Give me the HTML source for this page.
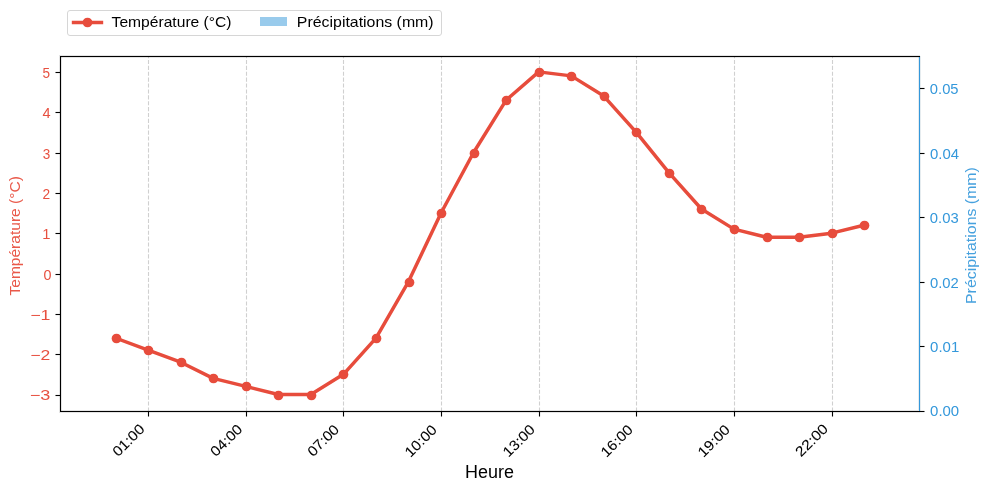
<!DOCTYPE html>
<html><head><meta charset="utf-8"><title>Température et précipitations</title>
<style>
html,body{margin:0;padding:0;background:#fff;}
svg{display:block;will-change:transform;}
text{font-family:"Liberation Sans",sans-serif;}
</style></head><body>
<svg width="989" height="492" viewBox="0 0 989 492">
<rect x="0" y="0" width="989" height="492" fill="#fff"/>
<g stroke="rgb(208,208,208)" stroke-width="1.111" stroke-dasharray="4.111 1.778" fill="none">
<line x1="148.5" y1="411.5" x2="148.5" y2="56.3"/>
<line x1="246.5" y1="411.5" x2="246.5" y2="56.3"/>
<line x1="343.5" y1="411.5" x2="343.5" y2="56.3"/>
<line x1="441.5" y1="411.5" x2="441.5" y2="56.3"/>
<line x1="539.5" y1="411.5" x2="539.5" y2="56.3"/>
<line x1="636.5" y1="411.5" x2="636.5" y2="56.3"/>
<line x1="734.5" y1="411.5" x2="734.5" y2="56.3"/>
<line x1="832.5" y1="411.5" x2="832.5" y2="56.3"/>
</g>
<path d="M115.605 338.034 L148.150 350.133 L180.695 362.232 L213.240 378.363 L245.786 386.429 L278.331 394.495 L310.876 394.495 L343.421 374.331 L375.967 338.034 L408.512 281.573 L441.057 213.014 L473.602 152.520 L506.148 100.092 L538.693 71.861 L571.238 75.894 L603.783 96.059 L636.329 132.355 L668.874 172.684 L701.419 208.981 L733.964 229.145 L766.510 237.211 L799.055 237.211 L831.600 233.178 L864.145 225.112" fill="none" stroke="#e74c3c" stroke-width="3.472" stroke-linejoin="round" stroke-linecap="square"/>
<g fill="#e74c3c">
<circle cx="116.5" cy="338.5" r="4.861"/>
<circle cx="148.5" cy="350.5" r="4.861"/>
<circle cx="181.5" cy="362.5" r="4.861"/>
<circle cx="213.5" cy="378.5" r="4.861"/>
<circle cx="246.5" cy="386.5" r="4.861"/>
<circle cx="278.5" cy="395.5" r="4.861"/>
<circle cx="311.5" cy="395.5" r="4.861"/>
<circle cx="343.5" cy="374.5" r="4.861"/>
<circle cx="376.5" cy="338.5" r="4.861"/>
<circle cx="409.5" cy="282.5" r="4.861"/>
<circle cx="441.5" cy="213.5" r="4.861"/>
<circle cx="474.5" cy="153.5" r="4.861"/>
<circle cx="506.5" cy="100.5" r="4.861"/>
<circle cx="539.5" cy="72.5" r="4.861"/>
<circle cx="571.5" cy="76.5" r="4.861"/>
<circle cx="604.5" cy="96.5" r="4.861"/>
<circle cx="636.5" cy="132.5" r="4.861"/>
<circle cx="669.5" cy="173.5" r="4.861"/>
<circle cx="701.5" cy="209.5" r="4.861"/>
<circle cx="734.5" cy="229.5" r="4.861"/>
<circle cx="767.5" cy="237.5" r="4.861"/>
<circle cx="799.5" cy="237.5" r="4.861"/>
<circle cx="832.5" cy="233.5" r="4.861"/>
<circle cx="864.5" cy="225.5" r="4.861"/>
</g>
<g fill="#000">
<rect x="60" y="56" width="1" height="356"/>
<rect x="60" y="56" width="860" height="1"/>
<rect x="60" y="411" width="860" height="1"/>
</g>
<rect x="919" y="57" width="1" height="354" fill="#3498db"/>
<rect x="918" y="57" width="1" height="353" fill="rgb(230,236,239)"/><rect x="920" y="56" width="1" height="355" fill="rgb(230,236,239)"/>
<g fill="#000" fill-opacity="0.107">
<rect x="59" y="55" width="1" height="358"/><rect x="61" y="57" width="1" height="354"/>
<rect x="60" y="55" width="860" height="1"/><rect x="61" y="57" width="858" height="1"/>
<rect x="60" y="412" width="860" height="1"/><rect x="61" y="410" width="858" height="1"/>
</g>
<g fill="#000">
<rect x="55.5" y="71.9445" width="4.5" height="1.111"/>
<rect x="55.5" y="111.9445" width="4.5" height="1.111"/>
<rect x="55.5" y="152.9445" width="4.5" height="1.111"/>
<rect x="55.5" y="192.9445" width="4.5" height="1.111"/>
<rect x="55.5" y="232.9445" width="4.5" height="1.111"/>
<rect x="55.5" y="273.9445" width="4.5" height="1.111"/>
<rect x="55.5" y="313.9445" width="4.5" height="1.111"/>
<rect x="55.5" y="353.9445" width="4.5" height="1.111"/>
<rect x="55.5" y="394.9445" width="4.5" height="1.111"/>
<rect x="920" y="410.9445" width="4.5" height="1.111"/>
<rect x="920" y="345.9445" width="4.5" height="1.111"/>
<rect x="920" y="281.9445" width="4.5" height="1.111"/>
<rect x="920" y="216.9445" width="4.5" height="1.111"/>
<rect x="920" y="152.9445" width="4.5" height="1.111"/>
<rect x="920" y="87.9445" width="4.5" height="1.111"/>
<rect x="147.9445" y="412" width="1.111" height="4.5"/>
<rect x="245.9445" y="412" width="1.111" height="4.5"/>
<rect x="342.9445" y="412" width="1.111" height="4.5"/>
<rect x="440.9445" y="412" width="1.111" height="4.5"/>
<rect x="538.9445" y="412" width="1.111" height="4.5"/>
<rect x="635.9445" y="412" width="1.111" height="4.5"/>
<rect x="733.9445" y="412" width="1.111" height="4.5"/>
<rect x="831.9445" y="412" width="1.111" height="4.5"/>
</g>
<text x="50.14" y="77.53" font-size="14.200" fill="#e74c3c" fill-opacity="0.98" text-anchor="end" textLength="7.54" lengthAdjust="spacingAndGlyphs">5</text>
<text x="50.56" y="117.80" font-size="14.200" fill="#e74c3c" fill-opacity="0.98" text-anchor="end" textLength="8.09" lengthAdjust="spacingAndGlyphs">4</text>
<text x="50.39" y="158.98" font-size="14.200" fill="#e74c3c" fill-opacity="0.98" text-anchor="end" textLength="7.53" lengthAdjust="spacingAndGlyphs">3</text>
<text x="50.14" y="199.28" font-size="14.200" fill="#e74c3c" fill-opacity="0.98" text-anchor="end" textLength="7.64" lengthAdjust="spacingAndGlyphs">2</text>
<text x="50.49" y="238.62" font-size="14.200" fill="#e74c3c" fill-opacity="0.98" text-anchor="end" textLength="8.21" lengthAdjust="spacingAndGlyphs">1</text>
<text x="51.42" y="280.10" font-size="14.200" fill="#e74c3c" fill-opacity="0.98" text-anchor="end" textLength="7.98" lengthAdjust="spacingAndGlyphs">0</text>
<text x="50.44" y="319.99" font-size="14.200" fill="#e74c3c" fill-opacity="0.98" text-anchor="end" textLength="20.23" lengthAdjust="spacingAndGlyphs">−1</text>
<text x="50.26" y="360.49" font-size="14.200" fill="#e74c3c" fill-opacity="0.98" text-anchor="end" textLength="20.00" lengthAdjust="spacingAndGlyphs">−2</text>
<text x="50.41" y="399.91" font-size="14.200" fill="#e74c3c" fill-opacity="0.98" text-anchor="end" textLength="20.64" lengthAdjust="spacingAndGlyphs">−3</text>
<text x="930.09" y="416.21" font-size="14.200" fill="#3498db" textLength="29.13" lengthAdjust="spacingAndGlyphs">0.00</text>
<text x="930.09" y="351.72" font-size="14.200" fill="#3498db" textLength="29.16" lengthAdjust="spacingAndGlyphs">0.01</text>
<text x="930.02" y="287.93" font-size="14.200" fill="#3498db" textLength="28.82" lengthAdjust="spacingAndGlyphs">0.02</text>
<text x="929.81" y="222.77" font-size="14.200" fill="#3498db" textLength="28.85" lengthAdjust="spacingAndGlyphs">0.03</text>
<text x="930.05" y="159.13" font-size="14.200" fill="#3498db" textLength="29.04" lengthAdjust="spacingAndGlyphs">0.04</text>
<text x="929.86" y="94.08" font-size="14.200" fill="#3498db" textLength="28.67" lengthAdjust="spacingAndGlyphs">0.05</text>
<text x="118.15" y="457.32" font-size="14.200" fill="#000" stroke="#000" stroke-width="0.06" textLength="38.63" lengthAdjust="spacingAndGlyphs" transform="rotate(-45 118.15 457.32)">01:00</text>
<text x="216.10" y="457.32" font-size="14.200" fill="#000" stroke="#000" stroke-width="0.06" textLength="38.51" lengthAdjust="spacingAndGlyphs" transform="rotate(-45 216.10 457.32)">04:00</text>
<text x="313.15" y="457.32" font-size="14.200" fill="#000" stroke="#000" stroke-width="0.06" textLength="38.10" lengthAdjust="spacingAndGlyphs" transform="rotate(-45 313.15 457.32)">07:00</text>
<text x="410.59" y="457.91" font-size="14.200" fill="#000" stroke="#000" stroke-width="0.06" textLength="38.34" lengthAdjust="spacingAndGlyphs" transform="rotate(-45 410.59 457.91)">10:00</text>
<text x="508.60" y="457.85" font-size="14.200" fill="#000" stroke="#000" stroke-width="0.06" textLength="38.63" lengthAdjust="spacingAndGlyphs" transform="rotate(-45 508.60 457.85)">13:00</text>
<text x="606.56" y="457.96" font-size="14.200" fill="#000" stroke="#000" stroke-width="0.06" textLength="38.55" lengthAdjust="spacingAndGlyphs" transform="rotate(-45 606.56 457.96)">16:00</text>
<text x="703.54" y="457.94" font-size="14.200" fill="#000" stroke="#000" stroke-width="0.06" textLength="38.63" lengthAdjust="spacingAndGlyphs" transform="rotate(-45 703.54 457.94)">19:00</text>
<text x="801.09" y="457.47" font-size="14.200" fill="#000" stroke="#000" stroke-width="0.06" textLength="39.19" lengthAdjust="spacingAndGlyphs" transform="rotate(-45 801.09 457.47)">22:00</text>
<text x="489.55" y="477.78" font-size="18.000" fill="#000" text-anchor="middle" textLength="48.93" lengthAdjust="spacingAndGlyphs">Heure</text>
<text x="19.88" y="235.84" font-size="14.200" fill="#e74c3c" fill-opacity="0.93" text-anchor="middle" textLength="119.39" lengthAdjust="spacingAndGlyphs" transform="rotate(-90 19.88 235.84)">Température (°C)</text>
<text x="975.71" y="235.53" font-size="14.200" fill="#3498db" fill-opacity="0.91" text-anchor="middle" textLength="136.90" lengthAdjust="spacingAndGlyphs" transform="rotate(-90 975.71 235.53)">Précipitations (mm)</text>
<rect x="67.5" y="10.5" width="374" height="25" rx="2.5" ry="2.5" fill="#fff" stroke="#d6d6d6" stroke-width="1"/>
<line x1="73.54" y1="22.5" x2="101.46" y2="22.5" stroke="#e74c3c" stroke-width="3.472" stroke-linecap="square"/>
<circle cx="87.5" cy="22.5" r="4.861" fill="#e74c3c"/>
<rect x="260" y="17" width="27" height="9" fill="rgb(153,203,236)"/>
<text x="111.58" y="26.90" font-size="14.200" fill="#000" textLength="119.98" lengthAdjust="spacingAndGlyphs">Température (°C)</text>
<text x="296.89" y="26.86" font-size="14.200" fill="#000" textLength="136.76" lengthAdjust="spacingAndGlyphs">Précipitations (mm)</text>
</svg>
</body></html>
